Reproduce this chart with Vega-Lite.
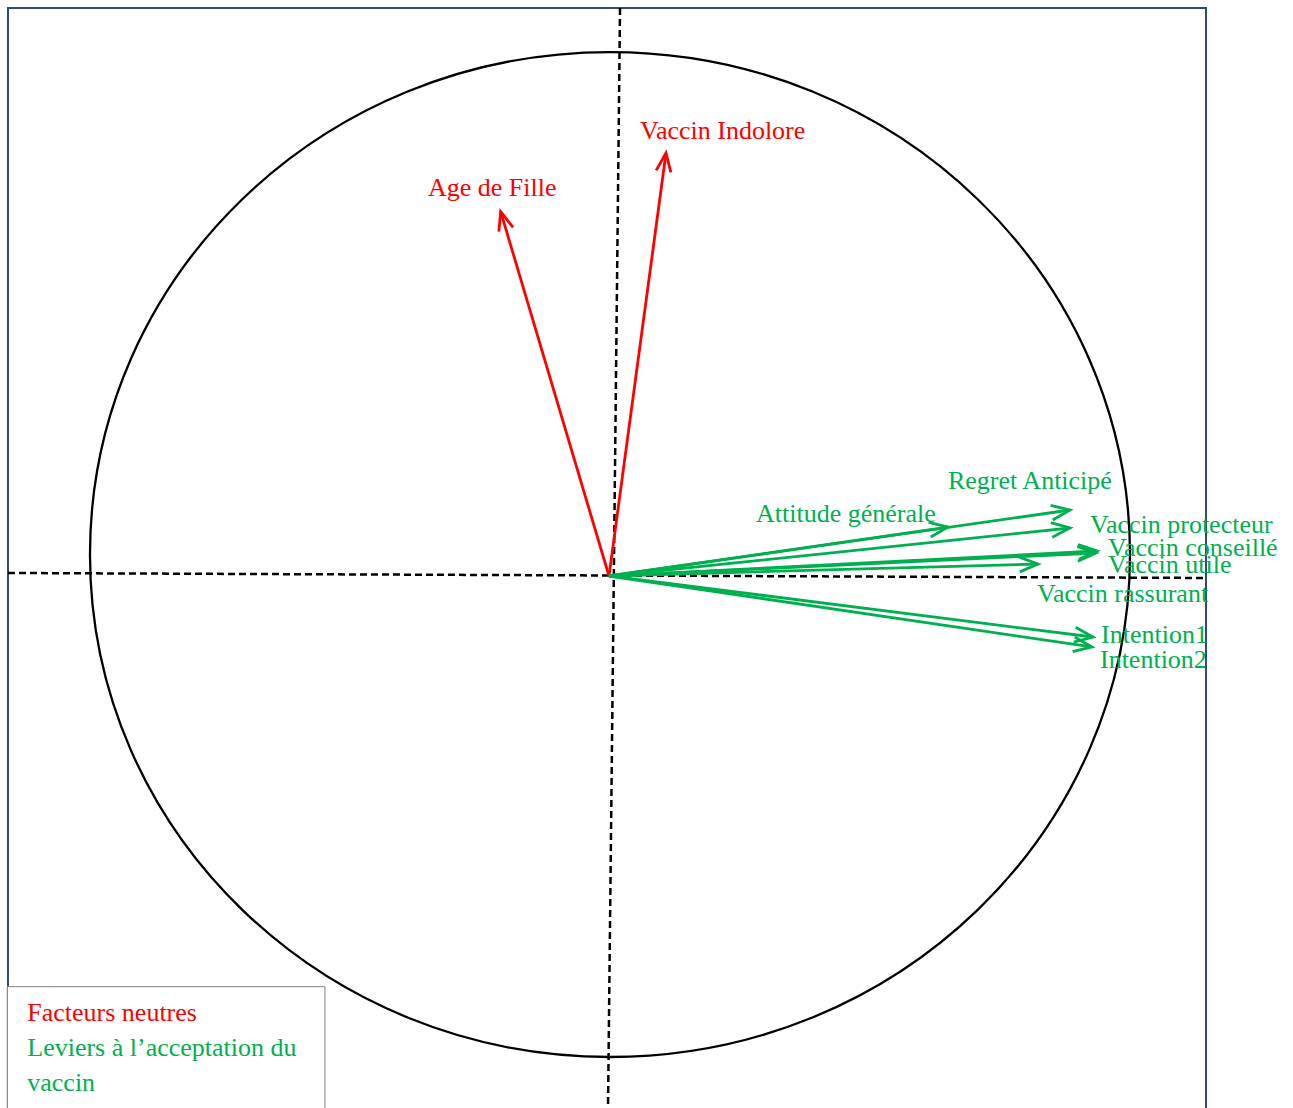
{
  "$schema": "https://vega.github.io/schema/vega-lite/v6.json",
  "width": 1293,
  "height": 1108,
  "autosize": {"type": "none"},
  "padding": 0,
  "background": "white",
  "config": {"view": {"stroke": null}},
  "datasets": {
    "vars": [
      {"variable": "Vaccin Indolore", "groupe": "Facteurs neutres", "x": 0.1096, "y": 0.8135, "lx": 0.0596, "ly": 0.8404},
      {"variable": "Age de Fille", "groupe": "Facteurs neutres", "x": -0.2083, "y": 0.7006, "lx": -0.3481, "ly": 0.7308},
      {"variable": "Regret Anticipé", "groupe": "Leviers", "x": 0.8865, "y": 0.1269, "lx": 0.6519, "ly": 0.1667},
      {"variable": "Attitude générale", "groupe": "Leviers", "x": 0.6519, "y": 0.0942, "lx": 0.2827, "ly": 0.1044},
      {"variable": "Vaccin protecteur", "groupe": "Leviers", "x": 0.8865, "y": 0.0923, "lx": 0.925, "ly": 0.0833},
      {"variable": "Vaccin conseillé", "groupe": "Leviers", "x": 0.9385, "y": 0.0481, "lx": 0.9596, "ly": 0.0391},
      {"variable": "Vaccin utile", "groupe": "Leviers", "x": 0.9365, "y": 0.0442, "lx": 0.9596, "ly": 0.0051},
      {"variable": "Vaccin rassurant", "groupe": "Leviers", "x": 0.825, "y": 0.0231, "lx": 0.8231, "ly": -0.0494},
      {"variable": "Intention1", "groupe": "Leviers", "x": 0.9308, "y": -0.1173, "lx": 0.9462, "ly": -0.1283},
      {"variable": "Intention2", "groupe": "Leviers", "x": 0.9288, "y": -0.1365, "lx": 0.9442, "ly": -0.1775}
    ],
    "axes": [
      {"axe": "Dim1", "x": -1.1558, "y": 0.0058, "x2": 1.1481, "y2": -0.0038},
      {"axe": "Dim2", "x": 0.0212, "y": 1.0923, "x2": -0.0019, "y2": -1.0231}
    ],
    "cercle": [
      {"cx": 0.0019, "cy": 0.0413}
    ],
    "cadre": [
      {"x": -1.1558, "x2": 1.1481, "y": 1.0923, "y2": -1.1}
    ],
    "boite": [
      {"x": -1.1571, "x2": -0.5462, "y": -0.7898, "y2": -1.1}
    ],
    "legende": [
      {"texte": "Facteurs neutres", "groupe": "Facteurs neutres", "x": -1.1187, "y": -0.8552},
      {"texte": "Leviers à l’acceptation du", "groupe": "Leviers", "x": -1.1187, "y": -0.9231},
      {"texte": "vaccin", "groupe": "Leviers", "x": -1.1187, "y": -0.9898}
    ]
  },
  "layer": [
    {
      "data": {"name": "cadre"},
      "mark": {"type": "rect", "filled": false, "stroke": "#2f4b6e", "strokeWidth": 2},
      "encoding": {
        "x": {"field": "x", "type": "quantitative", "scale": {"domain": [-1.17115, 1.31538], "nice": false, "zero": false}, "axis": null},
        "x2": {"field": "x2"},
        "y": {"field": "y", "type": "quantitative", "scale": {"domain": [-1.02308, 1.10769], "nice": false, "zero": false}, "axis": null},
        "y2": {"field": "y2"}
      }
    },
    {
      "data": {"name": "axes"},
      "mark": {"type": "rule", "stroke": "black", "strokeWidth": 2.5, "strokeDash": [7, 4]},
      "encoding": {
        "x": {"field": "x", "type": "quantitative", "scale": {"domain": [-1.17115, 1.31538], "nice": false, "zero": false}, "axis": null},
        "y": {"field": "y", "type": "quantitative", "scale": {"domain": [-1.02308, 1.10769], "nice": false, "zero": false}, "axis": null},
        "x2": {"field": "x2"},
        "y2": {"field": "y2"}
      }
    },
    {
      "data": {"name": "cercle"},
      "mark": {"type": "point", "filled": false, "stroke": "black", "strokeWidth": 2.3, "opacity": 1,
               "shape": "M -1 0 A 1 0.9663 0 1 1 1 0 A 1 0.9663 0 1 1 -1 0", "size": 1081600},
      "encoding": {
        "x": {"field": "cx", "type": "quantitative", "scale": {"domain": [-1.17115, 1.31538], "nice": false, "zero": false}, "axis": null},
        "y": {"field": "cy", "type": "quantitative", "scale": {"domain": [-1.02308, 1.10769], "nice": false, "zero": false}, "axis": null}
      }
    },
    {
      "data": {"name": "vars"},
      "mark": {"type": "rule", "strokeWidth": 2.8},
      "encoding": {
        "x": {"field": "x", "type": "quantitative", "scale": {"domain": [-1.17115, 1.31538], "nice": false, "zero": false}, "axis": null},
        "y": {"field": "y", "type": "quantitative", "scale": {"domain": [-1.02308, 1.10769], "nice": false, "zero": false}, "axis": null},
        "x2": {"datum": 0},
        "y2": {"datum": 0},
        "color": {"field": "groupe", "type": "nominal", "scale": {"domain": ["Facteurs neutres", "Leviers"], "range": ["#ff0000", "#00b050"]}, "legend": null}
      }
    },
    {
      "data": {"name": "vars"},
      "transform": [{"calculate": "atan2(datum.x, datum.y) * 180 / PI", "as": "direction"}],
      "mark": {"type": "point", "filled": false, "strokeWidth": 2.8, "opacity": 1,
               "shape": "M -0.4 1 L 0 0 L 0.4 1", "size": 1369},
      "encoding": {
        "x": {"field": "x", "type": "quantitative", "scale": {"domain": [-1.17115, 1.31538], "nice": false, "zero": false}, "axis": null},
        "y": {"field": "y", "type": "quantitative", "scale": {"domain": [-1.02308, 1.10769], "nice": false, "zero": false}, "axis": null},
        "angle": {"field": "direction", "type": "quantitative", "scale": null},
        "color": {"field": "groupe", "type": "nominal", "legend": null}
      }
    },
    {
      "data": {"name": "vars"},
      "mark": {"type": "text", "align": "left", "baseline": "alphabetic", "font": "Liberation Serif", "fontSize": 26},
      "encoding": {
        "x": {"field": "lx", "type": "quantitative", "scale": {"domain": [-1.17115, 1.31538], "nice": false, "zero": false}, "axis": null},
        "y": {"field": "ly", "type": "quantitative", "scale": {"domain": [-1.02308, 1.10769], "nice": false, "zero": false}, "axis": null},
        "text": {"field": "variable"},
        "color": {"field": "groupe", "type": "nominal", "legend": null}
      }
    },
    {
      "data": {"name": "boite"},
      "mark": {"type": "rect", "fill": "white", "stroke": "#7f7f7f", "strokeWidth": 1},
      "encoding": {
        "x": {"field": "x", "type": "quantitative", "scale": {"domain": [-1.17115, 1.31538], "nice": false, "zero": false}, "axis": null},
        "x2": {"field": "x2"},
        "y": {"field": "y", "type": "quantitative", "scale": {"domain": [-1.02308, 1.10769], "nice": false, "zero": false}, "axis": null},
        "y2": {"field": "y2"}
      }
    },
    {
      "data": {"name": "legende"},
      "mark": {"type": "text", "align": "left", "baseline": "alphabetic", "font": "Liberation Serif", "fontSize": 26},
      "encoding": {
        "x": {"field": "x", "type": "quantitative", "scale": {"domain": [-1.17115, 1.31538], "nice": false, "zero": false}, "axis": null},
        "y": {"field": "y", "type": "quantitative", "scale": {"domain": [-1.02308, 1.10769], "nice": false, "zero": false}, "axis": null},
        "text": {"field": "texte"},
        "color": {"field": "groupe", "type": "nominal", "legend": null}
      }
    }
  ]
}
